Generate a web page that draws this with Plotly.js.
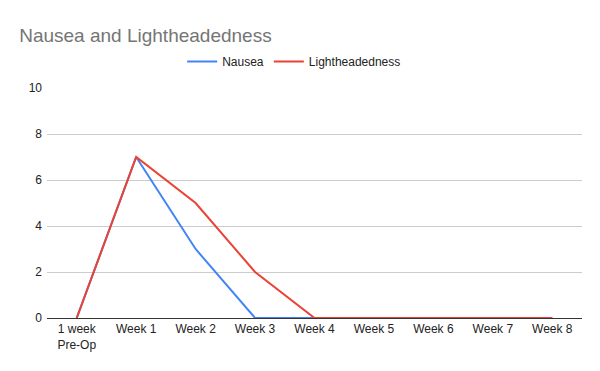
<!DOCTYPE html>
<html><head><meta charset="utf-8">
<script src="https://cdn.plot.ly/plotly-3.0.1.min.js"></script>
<style>html,body{margin:0;padding:0;background:#fff}#chart{width:600px;height:371px}</style>
</head><body><div id="chart"></div>
<script>
const categories = ["1 week<br>Pre-Op","Week 1","Week 2","Week 3","Week 4","Week 5","Week 6","Week 7","Week 8"];
const nausea = [0,7,3,0,0,0,0,0,0];
const lightheadedness = [0,7,5,2,0,0,0,0,0];
const yTicks = [0,2,4,6,8,10];

const FONT = "Arial, 'Liberation Sans', sans-serif";
const traces = [
  {x: categories, y: nausea, name: "Nausea", type: "scatter", mode: "lines",
   line: {color: "#4285F4", width: 2}},
  {x: categories, y: lightheadedness, name: "Lightheadedness", type: "scatter", mode: "lines",
   line: {color: "#EA4335", width: 2}}
];
const layout = {
  width: 600, height: 371,
  margin: {l: 47, r: 18, t: 88, b: 53, autoexpand: false},
  paper_bgcolor: "#fff", plot_bgcolor: "#fff",
  font: {family: FONT, size: 12, color: "#222"},
  title: {text: "Nausea and Lightheadedness", xref: "container", x: 0.032, xanchor: "left",
          yref: "container", y: 0.905, yanchor: "middle",
          font: {size: 19, color: "#757575", family: FONT}},
  showlegend: true,
  legend: {orientation: "h", x: 0.462, xanchor: "center", y: 1.115, yanchor: "middle",
           font: {size: 12, color: "#222", family: FONT}},
  xaxis: {type: "category", range: [-0.5, 8.5], showgrid: false, zeroline: false, tickangle: 0,
          showline: true, linecolor: "#333", linewidth: 1, ticks: "", tickfont: {size: 12, color: "#222", family: FONT}},
  yaxis: {range: [0, 10], tickvals: yTicks, showgrid: true, gridcolor: "#ccc", zeroline: false,
          showline: false, ticks: "", ticklabelstandoff: 4, tickfont: {size: 12, color: "#222", family: FONT}, fixedrange: true}
};
Plotly.newPlot("chart", traces, layout, {displayModeBar: false, staticPlot: true});
</script></body></html>
